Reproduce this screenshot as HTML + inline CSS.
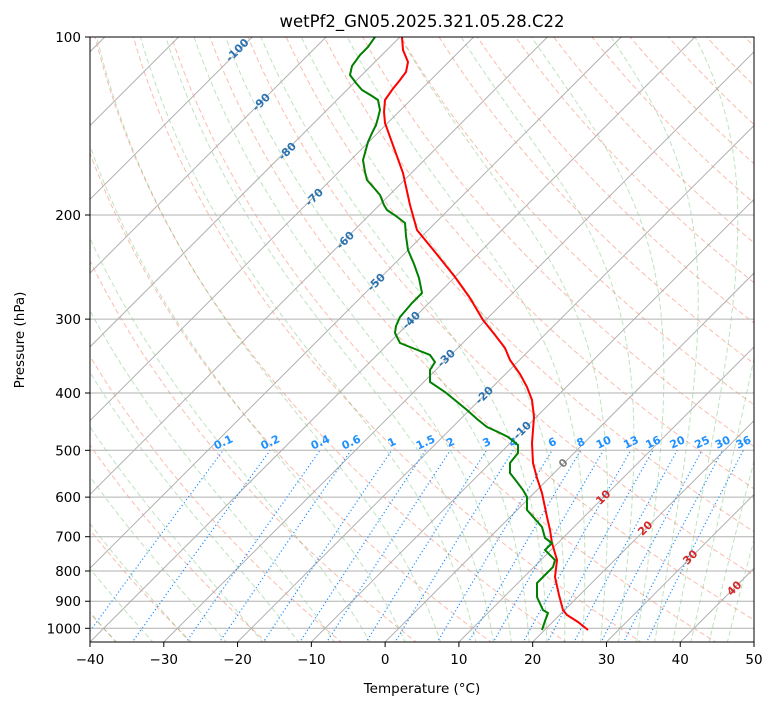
<!DOCTYPE html>
<html><head><meta charset="utf-8"><style>
body{margin:0;background:#fff}
svg text{font-family:"DejaVu Sans","Liberation Sans",sans-serif}
</style></head><body>
<svg id="s" width="775" height="708" xmlns="http://www.w3.org/2000/svg">
<defs><clipPath id="c"><rect x="90" y="37" width="664" height="605"/></clipPath></defs>
<rect width="775" height="708" fill="#fff"/>
<g id="bg" clip-path="url(#c)"></g>
<g id="fg" clip-path="url(#c)">
<polyline fill="none" stroke="#ff0000" stroke-width="2" points="402,37 403,50 408,62 406,72 400,80 392,90 385,100 384,112 385,123 394,148 403,173 410,205 417,230 435,252 455,277 470,298 483,320 495,335 505,348 510,360 520,374 527,387 532,400 534,417 532,443 533,463 537,478 542,493 547,517 550,530 552,543 557,560 555,577 559,595 563,610 567,615 578,622 588,630"/>
<polyline fill="none" stroke="#008000" stroke-width="2" points="375,37 368,47 360,55 352,66 350,75 356,83 362,90 372,96 378,100 380,110 378,118 376,125 372,133 368,142 363,160 365,172 367,180 374,188 380,195 384,205 387,210 396,216 405,223 406,236 408,250 414,264 419,278 422,293 412,303 400,317 396,326 395,333 400,343 415,349 430,355 435,362 430,370 430,382 445,392 456,401 467,410 477,419 487,427 498,432 508,437 518,445 518,453 510,463 510,473 517,482 523,490 527,497 527,510 535,519 542,527 545,538 552,543 545,550 555,560 553,567 545,575 537,583 537,597 543,610 548,613 545,621 542,630"/>
</g>
<rect x="90" y="37" width="664" height="605" fill="none" stroke="#000" stroke-width="1"/>
<g id="ax" font-size="13.5" fill="#000"></g>
<text x="422" y="27" font-size="16.5" text-anchor="middle">wetPf2_GN05.2025.321.05.28.C22</text>
<text x="422" y="693" font-size="13.5" text-anchor="middle">Temperature (°C)</text>
<text x="24" y="340" font-size="13.5" text-anchor="middle" transform="rotate(-90 24 340)">Pressure (hPa)</text>
</svg>
<script>
var NS="http://www.w3.org/2000/svg";
function Y(p){return 37+256.8*Math.log(p/100);}
function X(T,p){return 90+(T+40)*7.378+(642-Y(p));}
var bg=document.getElementById('bg'),ax=document.getElementById('ax');
function el(par,tag,a,txt){var e=document.createElementNS(NS,tag);for(var k in a)e.setAttribute(k,a[k]);if(txt!==undefined)e.textContent=txt;par.appendChild(e);return e;}
function pl(pts,a){a.points=pts.map(function(q){return q[0].toFixed(1)+','+q[1].toFixed(1)}).join(' ');a.fill='none';el(bg,'polyline',a);}
var ps=[];for(var p=1060;p>=95;p-=5)ps.push(p);
for(var t0=-50;t0<=200;t0+=10){var th=t0+273.15;pl(ps.map(function(p){return [X(th*Math.pow(p/1000,0.2857)-273.15,p),Y(p)]}),{stroke:'rgba(240,90,50,0.4)','stroke-width':1,'stroke-dasharray':'5,3'});}
function es(T){return 6.112*Math.exp(17.67*T/(T+243.5));}
function dTdp(T,p){var Tk=T+273.15,e=es(T),rs=0.622*e/(p-e),Lv=2.501e6,Rd=287.04,Cp=1005.7;return (Rd*Tk+Lv*rs)/(p*(Cp+Lv*Lv*rs*0.622/(Rd*Tk*Tk)));}
var m=[];for(var t=-50;t<=10.05;t+=5)m.push(t);for(t=12.5;t<=45.05;t+=2.5)m.push(t);
m.forEach(function(t0){var pts=[],T=t0,p;for(p=1000;p>=100;p-=2){pts.push([X(T,p),Y(p)]);T-=dTdp(T,p)*2;}
var dn=[];T=t0;for(p=1000;p<=1060;p+=2){dn.unshift([X(T,p),Y(p)]);T+=dTdp(T,p)*2;}
pl(dn.concat(pts),{stroke:'rgba(44,160,44,0.3)','stroke-width':1,'stroke-dasharray':'5,3'});});
[100,200,300,400,500,600,700,800,900,1000].forEach(function(p){el(bg,'line',{x1:90,x2:754,y1:Y(p),y2:Y(p),stroke:'#b0b0b0','stroke-width':1});});
for(var T=-150;T<=50;T+=10){el(bg,'line',{x1:X(T,1060),y1:Y(1060),x2:X(T,95),y2:Y(95),stroke:'#b0b0b0','stroke-width':1});}
function tdw(w,p){var e=p*w/(622+w),l=Math.log(e/6.112);return 243.5*l/(17.67-l);}
[0.1,0.2,0.4,0.6,1,1.5,2,3,4,6,8,10,13,16,20,25,30,36].forEach(function(w){var pts=[];for(var p=1060;p>=500;p-=10)pts.push([X(tdw(w,p),p),Y(p)]);
pl(pts,{stroke:'#1e90ff','stroke-width':1.2,'stroke-dasharray':'1.2,2.5'});
var x=X(tdw(w,500),500);el(bg,'text',{x:x,y:446,'font-size':11,'font-weight':'bold',fill:'#1e90ff','text-anchor':'middle',transform:'rotate(-25 '+x+' 442)'},String(w));});
var labs=[[-100,237,50],[-90,261,102],[-80,287,151],[-70,314,197],[-60,345,240],[-50,376,282],[-40,411,320],[-30,446,358],[-20,484,395],[-10,522,430],[0,563,463],[10,603,497],[20,645,528],[30,690,557],[40,734,588]];
var fg=document.getElementById('fg');
labs.forEach(function(l){var c=l[0]<0?'#2a72b0':(l[0]==0?'#7f7f7f':'#d62728');el(fg,'text',{x:l[1],y:l[2]+4,'font-size':11,'font-weight':'bold',fill:c,'text-anchor':'middle',transform:'rotate(-45 '+l[1]+' '+l[2]+')'},String(l[0]));});
[100,200,300,400,500,600,700,800,900,1000].forEach(function(p){var y=Y(p);el(ax,'line',{x1:85,x2:90,y1:y,y2:y,stroke:'#000'});el(ax,'text',{x:81,y:y+5,'text-anchor':'end'},String(p));});
for(var t=-40;t<=50;t+=10){var x=90+(t+40)*7.378;el(ax,'line',{x1:x,x2:x,y1:642,y2:647,stroke:'#000'});el(ax,'text',{x:x,y:664,'text-anchor':'middle'},(t<0?'\u2212'+(-t):String(t)));}
</script>
</body></html>
